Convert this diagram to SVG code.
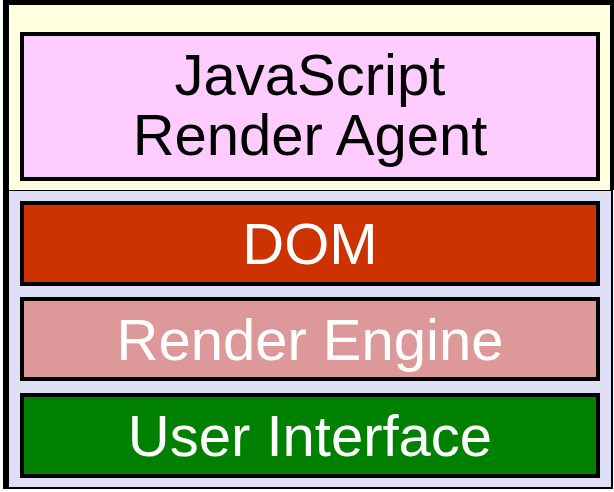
<svg xmlns="http://www.w3.org/2000/svg" width="614" height="492" viewBox="0 0 614 492">
<style>
.box{stroke:#000;stroke-width:4}
.lbl{font-family:"Liberation Sans",Arial,sans-serif;font-size:58px;text-anchor:middle}
</style>
<rect width="614" height="492" fill="#fff"/>
<g id="container-top">
<rect x="3" y="0" width="611" height="190" fill="#000"/>
<rect x="9" y="5" width="601" height="185" fill="#ffffdd"/>
</g>
<g id="container-bottom">
<rect x="3" y="190" width="610" height="299" fill="#000"/>
<rect x="9" y="191" width="602" height="296" fill="#dfe0f5"/>
</g>
<g id="js-agent">
<rect class="box" x="22" y="34" width="576" height="145" fill="#ffccff"/>
<text class="lbl" x="310" y="95" fill="#000">JavaScript</text>
<text class="lbl" x="310" y="155" fill="#000">Render Agent</text>
</g>
<g id="dom">
<rect class="box" x="22" y="203" width="576" height="81" fill="#cc3300"/>
<text class="lbl" x="310" y="264" fill="#fff">DOM</text>
</g>
<g id="render-engine">
<rect class="box" x="22" y="299" width="576" height="80" fill="#dd9999"/>
<text class="lbl" x="310" y="360" fill="#fff">Render Engine</text>
</g>
<g id="user-interface">
<rect class="box" x="22" y="395" width="576" height="81" fill="#008000"/>
<text class="lbl" x="310" y="456" fill="#fff">User Interface</text>
</g>
<g id="connectors"></g>
</svg>
